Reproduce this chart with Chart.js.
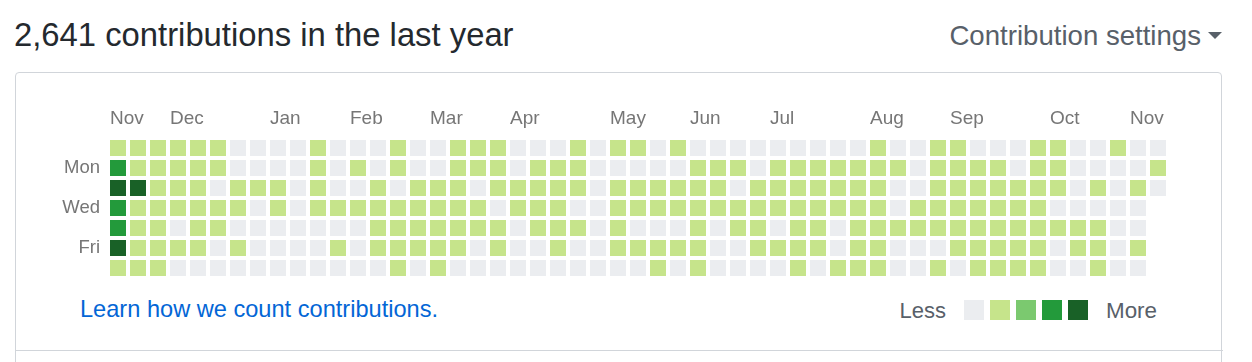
<!DOCTYPE html>
<html>
<head>
<meta charset="utf-8">
<script src="https://cdn.jsdelivr.net/npm/chart.js@4/dist/chart.umd.min.js"></script>
<style>
  html, body { margin: 0; padding: 0; background: #fff; }
  body { width: 1252px; height: 362px; position: relative; overflow: hidden;
         font-family: "Liberation Sans", Arial, Helvetica, sans-serif; }
  .abs { position: absolute; white-space: nowrap; line-height: 1; }
  #title { left: 14px; top: 19px; font-size: 32.8px; color: #24292e; }
  #settings { right: 51px; top: 22px; font-size: 27.6px; color: #586069; }
  #caret { position: absolute; left: 1208px; top: 32px; width: 0; height: 0;
           border-left: 7px solid transparent; border-right: 7px solid transparent;
           border-top: 7px solid #586069; }
  #box { position: absolute; left: 15px; top: 72px; width: 1207px; height: 320px;
         border: 1px solid #d1d5da; border-radius: 4px; box-sizing: border-box; }
  #sep { position: absolute; left: 15px; top: 350px; width: 1208px; height: 1px; background: #d1d5da; }
  #learn { left: 80px; top: 298px; font-size: 23.6px; color: #0366d6; }
  #less { right: 306px; top: 300px; font-size: 22px; color: #586069; }
  #more { left: 1106px; top: 300px; font-size: 22.4px; color: #586069; }
  .lg { position: absolute; top: 300px; width: 20px; height: 20px; }
  #chart { position: absolute; left: 0; top: 0; }
</style>
</head>
<body>
<div id="box"></div>
<div id="sep"></div>
<div id="title" class="abs">2,641 contributions in the last year</div>
<div id="settings" class="abs">Contribution settings</div>
<div id="caret"></div>
<div id="learn" class="abs">Learn how we count contributions.</div>
<div id="less" class="abs">Less</div>
<div id="more" class="abs">More</div>
<div id="legendCells"></div>
<canvas id="chart" width="1252" height="362"></canvas>
<script>
// ---- data (contribution level 0-4 per week column, one array per weekday) ----
const monthLabels = ['Nov','Dec','Jan','Feb','Mar','Apr','May','Jun','Jul','Aug','Sep','Oct','Nov'];
const monthStartWeeks = [0,3,8,12,16,20,25,29,33,38,42,47,51];
const dayLabels = ['', 'Mon', '', 'Wed', '', 'Fri', ''];
const levelColors = ['#ebedf0', '#c6e48b', '#7bc96f', '#239a3b', '#196127'];

const sunLevels = [1,1,1,1,1,1,0,0,0,0,1,0,0, 0,1,0,0,1,1,1,0,0,0,1,0,1, 1,0,1,0,0,0,0,0,0,0,0,0,1, 0,0,1,1,0,0,0,1,1,0,0,1,0,0];
const monLevels = [3,1,1,1,1,1,0,0,0,0,1,0,1, 0,1,0,0,1,1,1,0,1,1,1,0,0, 0,0,0,1,1,1,0,1,1,1,1,1,1, 1,0,1,1,1,1,0,1,1,0,0,0,0,1];
const tueLevels = [4,4,1,1,1,0,1,1,1,0,1,0,0, 1,0,1,1,1,0,1,1,1,1,1,0,1, 1,1,1,1,1,0,1,1,1,1,1,1,1, 0,0,1,1,1,1,1,1,1,0,1,0,1,0];
const wedLevels = [3,1,1,1,1,1,1,0,1,0,1,1,1, 1,1,1,1,1,1,0,1,1,1,0,0,1, 1,1,1,1,1,1,1,1,1,1,1,1,1, 0,1,1,1,1,1,1,1,0,0,0,0,0,null];
const thuLevels = [3,1,1,0,1,1,0,0,0,0,0,0,0, 1,1,1,1,1,1,1,0,1,1,1,0,1, 0,0,0,1,0,1,1,0,1,1,0,1,1, 1,1,1,1,1,1,1,1,1,1,1,0,0,null];
const friLevels = [4,1,1,1,1,0,1,0,0,0,0,1,0, 1,1,1,1,1,0,1,0,0,1,0,0,1, 1,1,1,1,0,0,1,1,1,1,0,1,1, 0,0,0,1,1,1,1,1,0,1,1,0,1,null];
const satLevels = [1,1,1,0,0,0,0,0,0,0,0,0,0, 0,1,0,1,0,0,0,0,0,0,0,0,0, 0,1,0,1,0,0,0,0,1,0,1,1,1, 0,0,1,0,1,1,1,1,0,0,1,0,0,null];

const dayRows = [sunLevels, monLevels, tueLevels, wedLevels, thuLevels, friLevels, satLevels];

// legend squares
const lgWrap = document.getElementById('legendCells');
levelColors.forEach((c, i) => {
  const d = document.createElement('div');
  d.className = 'lg';
  d.style.left = (964 + i * 26) + 'px';
  d.style.background = c;
  lgWrap.appendChild(d);
});

const points = [];
dayRows.forEach((row, day) => {
  row.forEach((lvl, week) => {
    if (lvl !== null) points.push({ x: week, y: day, v: lvl });
  });
});

const monthFont = { family: '"Liberation Sans", Arial, sans-serif', size: 19 };
const dayFont = { family: '"Liberation Sans", Arial, sans-serif', size: 18.5 };

new Chart(document.getElementById('chart'), {
  type: 'scatter',
  data: {
    datasets: [{
      data: points,
      pointStyle: 'rect',
      pointRadius: 16 / Math.SQRT2,
      pointHoverRadius: 16 / Math.SQRT2,
      borderWidth: 0,
      backgroundColor: ctx => levelColors[ctx.raw ? ctx.raw.v : 0]
    }]
  },
  options: {
    responsive: false,
    animation: false,
    devicePixelRatio: 1,
    events: [],
    layout: { padding: { left: 0, top: 0, right: 84, bottom: 84 } },
    plugins: { legend: { display: false }, tooltip: { enabled: false } },
    scales: {
      x: {
        type: 'linear', position: 'top',
        min: -0.5, max: 52.5,
        grid: { display: false, drawTicks: false },
        border: { display: false },
        afterBuildTicks: s => { s.ticks = monthStartWeeks.map(w => ({ value: w - 0.4 })); },
        afterFit: s => { s.height = 138; },
        ticks: {
          align: 'start', padding: 8, maxRotation: 0, autoSkip: false,
          color: '#767676', font: monthFont,
          callback: (v, i) => monthLabels[i]
        }
      },
      y: {
        type: 'linear', position: 'left', reverse: true,
        min: -0.5, max: 6.5,
        grid: { display: false, drawTicks: false },
        border: { display: false },
        afterBuildTicks: s => { s.ticks = [0,1,2,3,4,5,6].map(v => ({ value: v })); },
        afterFit: s => { s.width = 108; },
        ticks: {
          padding: 8, autoSkip: false,
          color: '#767676', font: dayFont,
          callback: v => dayLabels[v]
        }
      }
    }
  }
});
</script>
</body>
</html>
